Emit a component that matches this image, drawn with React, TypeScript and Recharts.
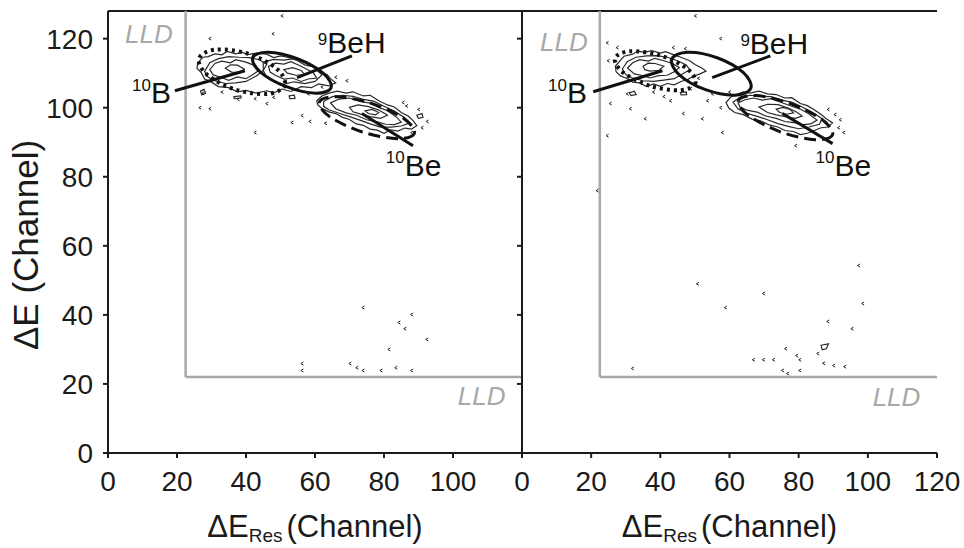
import React from 'react';
import { ComposedChart, XAxis, YAxis, Line, Scatter, ReferenceLine } from 'recharts';

const FONT = '"Liberation Sans", Arial, Helvetica, sans-serif';
const INK = '#1a1a1a';
const LLD_COLOR = '#a8a8a8';

const X_DOMAIN = [0, 120];
const Y_DOMAIN = [0, 128];
const X_TICKS_LEFT = [0, 20, 40, 60, 80, 100];
const X_TICKS_RIGHT = [0, 20, 40, 60, 80, 100, 120];
const Y_TICKS = [0, 20, 40, 60, 80, 100, 120];
const LLD_X = 22.5;
const LLD_Y = 22;

// ---- contour loops (ΔE_Res, ΔE) ----
const CONTOURS_LEFT = [
  [[26, 113], [27.5, 114.6], [29, 114.8], [31, 115.6], [33, 115.3], [34.5, 116.3], [37, 115.6], [39, 116], [40.5, 115.4], [43, 115.8], [46, 115.5], [48, 114.5], [50, 115], [52, 114.6], [55, 113.6], [57, 112.4], [59.5, 111.8], [61, 110.4], [63.5, 109.6], [64.5, 108.4], [66, 107.2], [64, 106.3], [61, 106.9], [59, 105.8], [56, 106.1], [53, 104.7], [50.5, 105.4], [48, 104.3], [46, 104.9], [43, 104.2], [40, 105], [37.5, 104.6], [35, 105.8], [32, 106.1], [30, 107.4], [28, 108.3], [27, 110.2], [25.8, 111.4]],
  [[28, 110.5], [29.5, 113], [32, 114.2], [35, 114.8], [38, 114.6], [41, 114.5], [44, 113.8], [46, 112.5], [45, 110.8], [43, 109.2], [40, 107.6], [37, 107.2], [34, 107], [31, 107.8], [29, 108.9]],
  [[29.5, 111], [31, 112.8], [33, 113.5], [35.5, 113], [37, 113.9], [40, 113.2], [42, 112.4], [43.5, 110.6], [42, 109.6], [40, 108.4], [37.5, 108.9], [35, 107.9], [32.5, 108.9], [30.5, 109.5]],
  [[34, 111.4], [35.5, 112.4], [37.5, 112.3], [39.5, 111.2], [38, 110.2], [35.8, 110.3]],
  [[45, 113.2], [48, 114], [51, 113.8], [54, 114.2], [57, 113], [60, 111.5], [62, 109.5], [60, 107.6], [57, 107], [54, 107.5], [51, 106.8], [48, 107.6], [46, 108.8], [45, 110.8]],
  [[46.5, 112], [48.5, 112.9], [51, 112.6], [53, 113.3], [55.5, 112.2], [57.5, 111.2], [59.5, 110.1], [60.5, 108.6], [58, 108.3], [56, 107.6], [53.5, 108.6], [51, 108.3], [48.5, 109.4], [47, 110.3]],
  [[51, 111], [53.5, 111.6], [56, 110.8], [57, 109.6], [54.5, 109.4], [52, 110]],
  [[26.8, 104.8], [27.8, 105.3], [28.3, 104.2], [27.2, 103.7]],
  [[36.5, 103.2], [38.5, 103.4], [38.6, 102.8], [36.6, 102.6]],
  [[52.5, 103.4], [54, 103.6], [54.2, 102.7], [52.7, 102.6]],
  [[60.5, 102], [62, 103.4], [64, 104.2], [66.5, 104.8], [69, 104.2], [71, 104.6], [74, 103.4], [76, 103.6], [78.5, 102], [81, 100.8], [83, 100.2], [85, 98.6], [87, 97.6], [88.5, 96.2], [89.5, 94.8], [88, 93.8], [86, 94.1], [84, 93.2], [82, 93.6], [80, 92.6], [78, 93.5], [76, 93.8], [74, 94.9], [72, 95.3], [70, 96.6], [68, 97.2], [66, 98.3], [64, 98.8], [62, 99.8], [60.8, 100.8]],
  [[62.5, 101.8], [65, 103.2], [68, 103.6], [71, 103.3], [74, 102.4], [77, 101.9], [80, 100.4], [83, 99], [86, 97.1], [87.5, 95.6], [85, 94.7], [82, 94.4], [79, 94.4], [76, 95.3], [73, 96.4], [70, 97.4], [67, 98.4], [64, 99.4], [62.5, 100.4]],
  [[64.5, 101.4], [67, 102.5], [70, 102.8], [73, 101.8], [76, 101.3], [78.5, 100.1], [81, 99.1], [83.5, 97.4], [85, 95.8], [83, 95.1], [80.5, 95.2], [78, 95.9], [75, 96.5], [72, 97.8], [69, 98.5], [66, 99.7]],
  [[70, 100.1], [72.5, 100.8], [75.5, 100.3], [78.5, 99.3], [81, 97.8], [79, 96.9], [76, 97.4], [73, 98.2], [71, 98.8]],
  [[74.5, 99.1], [76.5, 99.5], [78.5, 98.6], [77.5, 97.9], [75.5, 98.3]],
  [[89.5, 97.8], [91, 98.3], [91.3, 97.2], [90, 96.9]],
];

const CONTOURS_RIGHT = [
  [[27, 112], [28.5, 113.8], [29.5, 114.9], [32, 115.5], [33.5, 116.4], [35.5, 116], [37.5, 116.5], [40, 115.8], [41.5, 116.2], [44, 115.3], [46.5, 114.4], [48.5, 113.6], [50, 112.5], [52, 111.5], [53.2, 110.6], [51.5, 109.8], [49.5, 109.1], [48, 108.2], [46, 107.6], [44, 106.6], [42, 107], [40, 106.2], [38, 106.9], [36, 106.1], [34, 107.2], [32, 107.4], [30, 108.6], [28.5, 109.2], [27.2, 110.4]],
  [[29, 111.2], [30.5, 113.4], [33, 114.6], [36, 115], [39, 115.1], [42, 114.6], [45, 113.6], [47.5, 112.4], [48.5, 111], [46.5, 109.8], [44, 108.4], [41, 108], [38, 107.6], [35, 107.8], [32, 108.6], [30, 109.6]],
  [[30.5, 111.5], [32, 113], [34, 113.9], [36.5, 113.5], [38.5, 114.3], [41, 113.6], [43.5, 112.8], [45.5, 111.6], [44, 110.4], [42, 109.4], [39.5, 109.3], [37, 108.6], [34.5, 109.4], [32.5, 109.8]],
  [[35, 112], [36.5, 112.9], [38.5, 112.8], [41, 112], [39.5, 110.8], [37, 110.6], [35.5, 111]],
  [[31, 104.3], [32.5, 104.8], [33, 103.8], [31.5, 103.5]],
  [[45.8, 104.4], [47.5, 104.6], [47.6, 103.8], [46, 103.7]],
  [[59, 101.5], [60.5, 103.2], [62, 103.8], [64, 104.6], [66, 104.2], [68.5, 104.8], [71, 104], [73.5, 103.8], [76, 102.8], [78, 102.9], [80.5, 101.2], [82.5, 100.6], [84.5, 99.4], [86.5, 98], [88, 96.8], [89.8, 95.6], [88.5, 94.4], [86.5, 94.2], [84.5, 93.4], [82.5, 92.6], [80.5, 92.2], [78.5, 93.1], [76, 93.4], [74, 94.4], [71.5, 95], [69, 96.2], [66.5, 96.7], [64, 98], [61.5, 98.6], [59.8, 99.9]],
  [[61, 101.6], [63, 103], [66, 103.6], [69, 103.3], [72, 103.2], [75, 102.2], [78, 101.6], [81, 100.2], [84, 98.6], [86.8, 96.8], [86, 95.2], [83, 94.4], [80, 93.9], [77, 94.6], [74, 95.4], [71, 96.5], [68, 97.5], [65, 98.4], [62.5, 99.6]],
  [[62.5, 101.4], [64.5, 102.3], [67, 102.8], [69.5, 102.2], [72, 102.6], [75, 101.5], [78, 100.4], [80.5, 99.6], [83, 98.2], [85.3, 96.4], [83.5, 95.3], [81, 95], [78.5, 95.7], [76, 96], [73.5, 96.9], [70.5, 97.6], [68, 98.7], [65, 99.3], [63, 100.2]],
  [[68.5, 100.2], [71, 101], [74, 100.9], [77, 99.9], [79.5, 98.7], [81, 97.6], [79, 96.9], [76.5, 97.3], [73.5, 97.9], [71, 98.6]],
  [[73.5, 99.6], [75.5, 100.1], [77.5, 99.5], [78.5, 98.5], [76.5, 98.1], [74.5, 98.6]],
  [[86.5, 31.2], [88.6, 31.6], [88, 30.2], [86.8, 29.9]],
];

// ---- gate ellipses, control points (ΔE_Res, ΔE) ----
const ELLIPSE_9BEH_LEFT = [[64.66, 105.79], [60.23, 104.2], [51.74, 106.08], [44.18, 110.33], [41.95, 114.47], [46.38, 116.06], [54.87, 114.18], [62.43, 109.93]];
const ELLIPSE_10B_LEFT = [[51.27, 106.63], [46.5, 104.02], [37.22, 105.15], [28.88, 109.41], [26.36, 114.21], [31.14, 116.82], [40.41, 115.69], [48.75, 111.43]];
const ELLIPSE_10BE_LEFT = [[88.82, 92.62], [83.81, 91.03], [73.7, 92.97], [64.34, 97.34], [61.24, 101.59], [66.25, 103.18], [76.36, 101.24], [85.72, 96.87]];
const ELLIPSE_9BEH_RIGHT = [[66.19, 105.67], [61.65, 103.62], [53.07, 105.21], [45.48, 109.52], [43.31, 114.01], [47.86, 116.06], [56.43, 114.47], [64.02, 110.16]];
const ELLIPSE_10B_RIGHT = [[50.17, 107.15], [45.8, 105.07], [37.17, 106.28], [29.35, 110.1], [26.88, 114.27], [31.26, 116.35], [39.89, 115.14], [47.71, 111.32]];
const ELLIPSE_10BE_RIGHT = [[89.8, 92.16], [84.76, 90.71], [74.71, 93.02], [65.53, 97.71], [62.57, 102.05], [67.61, 103.5], [77.67, 101.19], [86.85, 96.5]];

// ---- isolated counts ----
const NOISE_LEFT = [
  [29.5, 120], [47.8, 121.4], [27.5, 104.2], [26.6, 100], [29.5, 99.7], [37.7, 102.4], [42.6, 102.6], [46, 101.2], [42.6, 92.8], [56.2, 97.7], [69.2, 107.8], [53.3, 95.7], [85.5, 101.5], [91, 94.2], [88, 92.8], [50.4, 126.6],
  [33, 104.5], [48, 103], [58, 104], [62, 106], [66, 108.8], [90, 99.5], [92.5, 96], [86.5, 100.5], [58.5, 96], [63, 95.5],
  [73.9, 42.1], [88, 40.1], [84.3, 37.8], [86, 36], [92.4, 32.9], [81.4, 30], [70.1, 25.9], [72.1, 24.7], [73.9, 23.9], [79.1, 23.9], [83.4, 24.7], [88, 23.9], [56.2, 25.9], [56.2, 23.9],
];
const NOISE_RIGHT = [
  [27.5, 117.4], [24.6, 118.8], [24.9, 113.6], [43.7, 117.4], [47.2, 117.1], [57.4, 120], [50.1, 126.6], [30.4, 104], [25.5, 101.2], [31.3, 99.7], [35.6, 96.8], [42.9, 102], [46.6, 98.3], [52.1, 96.8], [57.4, 100], [57.9, 92.8], [24.6, 91.9], [48.7, 105.5], [53.6, 102], [91.5, 94.2], [93, 92.8], [79.1, 89],
  [38, 104.5], [41, 103.2], [51, 108.5], [55, 104], [60, 104.5], [90.5, 98], [92, 96.5], [88.5, 99.5],
  [97.3, 54.3], [69.8, 46.2], [58.8, 42.1], [98.5, 43.3], [88.4, 38.1], [95.4, 36], [76.2, 30.2], [85.5, 28.8], [66.9, 27], [69.8, 27], [72.7, 27], [79.4, 28.2], [80.3, 27], [87.2, 26], [90.1, 25.3], [93.3, 25], [75.3, 23.9], [76.8, 23], [80.3, 23.9], [31.9, 24.5], [21.7, 76], [50.7, 49],
];

// ---- annotations ----
const LABELS_LEFT = [
  { x: 6.95, y: 101.45, sup: '10', main: 'B', dy: 12 },
  { x: 60.83, y: 115.92, sup: '9', main: 'BeH', dy: 8 },
  { x: 80.53, y: 80.32, sup: '10', main: 'Be', dy: 13 },
];
const LABELS_RIGHT = [
  { x: 7.53, y: 101.45, sup: '10', main: 'B', dy: 12 },
  { x: 63.15, y: 115.63, sup: '9', main: 'BeH', dy: 8 },
  { x: 84.88, y: 80.32, sup: '10', main: 'Be', dy: 13 },
];
const POINTERS_LEFT = [
  [[19.4, 104.9], [39.7, 110.7]],
  [[54.8, 108.7], [70.7, 115.0]],
  [[73.6, 98.3], [88.4, 89.0]],
];
const POINTERS_RIGHT = [
  [[20.6, 104.6], [40.6, 110.7]],
  [[55.0, 108.7], [71.8, 115.0]],
  [[75.3, 98.3], [89.8, 89.6]],
];
const LLD_TEXT_LEFT = [{ x: 4.92, y: 118.81 }, { x: 101.39, y: 14.04 }];
const LLD_TEXT_RIGHT = [{ x: 5.21, y: 116.5 }, { x: 101.39, y: 13.75 }];

const toPts = (arr: number[][]) => arr.map(([x, y]) => ({ x, y }));

// closed Catmull-Rom curve for smooth gate outlines
const closedSmooth: any = (context: any) => {
  let pts: number[][] = [];
  return {
    areaStart() {},
    areaEnd() {},
    lineStart() {
      pts = [];
    },
    point(x: number, y: number) {
      pts.push([+x, +y]);
    },
    lineEnd() {
      const n = pts.length;
      if (n < 3) return;
      context.moveTo(pts[0][0], pts[0][1]);
      for (let i = 0; i < n; i++) {
        const p0 = pts[(i - 1 + n) % n];
        const p1 = pts[i];
        const p2 = pts[(i + 1) % n];
        const p3 = pts[(i + 2) % n];
        context.bezierCurveTo(
          p1[0] + (p2[0] - p0[0]) / 6,
          p1[1] + (p2[1] - p0[1]) / 6,
          p2[0] - (p3[0] - p1[0]) / 6,
          p2[1] - (p3[1] - p1[1]) / 6,
          p2[0],
          p2[1]
        );
      }
      context.closePath();
    },
  };
};

const NoiseMark = (p: any) => {
  if (p.cx == null || p.cy == null) return <g />;
  return (
    <path
      d={`M${p.cx + 1.5},${p.cy - 1.5}L${p.cx - 1},${p.cy}L${p.cx + 1.5},${p.cy + 1.5}`}
      stroke="#222"
      strokeWidth={1}
      fill="none"
    />
  );
};

const AnnoText = (p: any) => {
  if (p.cx == null || p.cy == null) return <g />;
  const d = p.payload;
  return (
    <text x={p.cx} y={p.cy} fontFamily={FONT} fill="#111" fontSize={30}>
      <tspan fontSize={17} dy={-d.dy}>{d.sup}</tspan>
      <tspan fontSize={30} dy={d.dy}>{d.main}</tspan>
    </text>
  );
};

const LldText = (p: any) => {
  if (p.cx == null || p.cy == null) return <g />;
  return (
    <text x={p.cx} y={p.cy} fontFamily={FONT} fontStyle="italic" fontSize={26} fill={LLD_COLOR}>
      LLD
    </text>
  );
};

const tickStyle = { fontSize: 28, fill: '#1a1a1a', fontFamily: FONT };

const XTitle = (props: any) => {
  const vb = props.viewBox || { x: 0, y: 0, width: 0 };
  return (
    <text x={vb.x + vb.width / 2} y={vb.y + 84} textAnchor="middle" fontFamily={FONT} fontSize={31} fill="#1a1a1a">
      ΔE
      <tspan fontSize={19} dy={5}>Res</tspan>
      <tspan dy={-5} dx={4}>(Channel)</tspan>
    </text>
  );
};

const YTitle = (props: any) => {
  const vb = props.viewBox || { x: 0, y: 0, height: 0 };
  const cx = 38;
  const cy = vb.y + vb.height / 2 + 13;
  return (
    <text x={cx} y={cy} textAnchor="middle" transform={`rotate(-90, ${cx}, ${cy})`} fontFamily={FONT} fontSize={35} fill="#1a1a1a">
      ΔE (Channel)
    </text>
  );
};

function panelContent(cfg: {
  contours: number[][][];
  e9: number[][];
  e10b: number[][];
  e10be: number[][];
  noise: number[][];
  labels: any[];
  pointers: number[][][];
  lld: any[];
}) {
  return [
    <ReferenceLine key="top" y={128} stroke={INK} strokeWidth={2} />,
    <ReferenceLine
      key="lldv"
      segment={[{ x: LLD_X, y: LLD_Y }, { x: LLD_X, y: 128 }]}
      stroke={LLD_COLOR}
      strokeWidth={2.5}
    />,
    <ReferenceLine
      key="lldh"
      segment={[{ x: LLD_X, y: LLD_Y }, { x: 120, y: LLD_Y }]}
      stroke={LLD_COLOR}
      strokeWidth={2.5}
    />,
    ...cfg.contours.map((c, i) => (
      <Line
        key={`c${i}`}
        data={toPts(c)}
        dataKey="y"
        type="linearClosed"
        stroke="#2a2a2a"
        strokeWidth={1.2}
        dot={false}
        activeDot={false}
        isAnimationActive={false}
      />
    )),
    <Line key="e10b" data={toPts(cfg.e10b)} dataKey="y" type={closedSmooth} stroke="#111" strokeWidth={4} strokeDasharray="3 4" dot={false} activeDot={false} isAnimationActive={false} />,
    <Line key="e9" data={toPts(cfg.e9)} dataKey="y" type={closedSmooth} stroke="#111" strokeWidth={3} dot={false} activeDot={false} isAnimationActive={false} />,
    <Line key="e10be" data={toPts(cfg.e10be)} dataKey="y" type={closedSmooth} stroke="#111" strokeWidth={3} strokeDasharray="12 6" dot={false} activeDot={false} isAnimationActive={false} />,
    <Scatter key="noise" data={toPts(cfg.noise)} shape={<NoiseMark />} isAnimationActive={false} />,
    ...cfg.pointers.map((s, i) => (
      <ReferenceLine
        key={`p${i}`}
        segment={[{ x: s[0][0], y: s[0][1] }, { x: s[1][0], y: s[1][1] }]}
        stroke="#111"
        strokeWidth={3}
      />
    )),
    <Scatter key="lldt" data={cfg.lld} shape={<LldText />} isAnimationActive={false} />,
    <Scatter key="labels" data={cfg.labels} shape={<AnnoText />} isAnimationActive={false} />,
  ];
}

export default function App() {
  return (
    <div style={{ position: 'absolute', left: 0, top: 0, width: 964, height: 548, background: '#fff' }}>
      <div style={{ position: 'absolute', left: 0, top: 0 }}>
        <ComposedChart width={530} height={548} margin={{ top: 11, right: 8, bottom: 45, left: 48 }}>
          <XAxis
            type="number"
            dataKey="x"
            domain={X_DOMAIN}
            ticks={X_TICKS_LEFT}
            allowDataOverflow
            height={50}
            tick={tickStyle}
            tickSize={5}
            tickMargin={13}
            stroke={INK}
            strokeWidth={2}
            label={<XTitle />}
          />
          <YAxis
            type="number"
            dataKey="y"
            domain={Y_DOMAIN}
            ticks={Y_TICKS}
            allowDataOverflow
            width={60}
            tick={tickStyle}
            tickSize={5}
            tickMargin={10}
            stroke={INK}
            strokeWidth={2}
            label={<YTitle />}
          />
          {panelContent({
            contours: CONTOURS_LEFT,
            e9: ELLIPSE_9BEH_LEFT,
            e10b: ELLIPSE_10B_LEFT,
            e10be: ELLIPSE_10BE_LEFT,
            noise: NOISE_LEFT,
            labels: LABELS_LEFT,
            pointers: POINTERS_LEFT,
            lld: LLD_TEXT_LEFT,
          })}
        </ComposedChart>
      </div>
      <div style={{ position: 'absolute', left: 0, top: 0 }}>
        <ComposedChart width={964} height={548} margin={{ top: 11, right: 27, bottom: 45, left: 462 }}>
          <XAxis
            type="number"
            dataKey="x"
            domain={X_DOMAIN}
            ticks={X_TICKS_RIGHT}
            allowDataOverflow
            height={50}
            tick={tickStyle}
            tickSize={5}
            tickMargin={13}
            stroke={INK}
            strokeWidth={2}
            label={<XTitle />}
          />
          <YAxis
            type="number"
            dataKey="y"
            domain={Y_DOMAIN}
            ticks={Y_TICKS}
            allowDataOverflow
            width={60}
            tickFormatter={() => ''}
            tickSize={5}
            stroke={INK}
            strokeWidth={2}
          />
          <YAxis
            yAxisId="r"
            orientation="right"
            type="number"
            domain={Y_DOMAIN}
            ticks={Y_TICKS}
            allowDataOverflow
            width={0}
            mirror
            tickFormatter={() => ''}
            tickSize={5}
            stroke={INK}
            strokeWidth={2}
          />
          {panelContent({
            contours: CONTOURS_RIGHT,
            e9: ELLIPSE_9BEH_RIGHT,
            e10b: ELLIPSE_10B_RIGHT,
            e10be: ELLIPSE_10BE_RIGHT,
            noise: NOISE_RIGHT,
            labels: LABELS_RIGHT,
            pointers: POINTERS_RIGHT,
            lld: LLD_TEXT_RIGHT,
          })}
        </ComposedChart>
      </div>
    </div>
  );
}
